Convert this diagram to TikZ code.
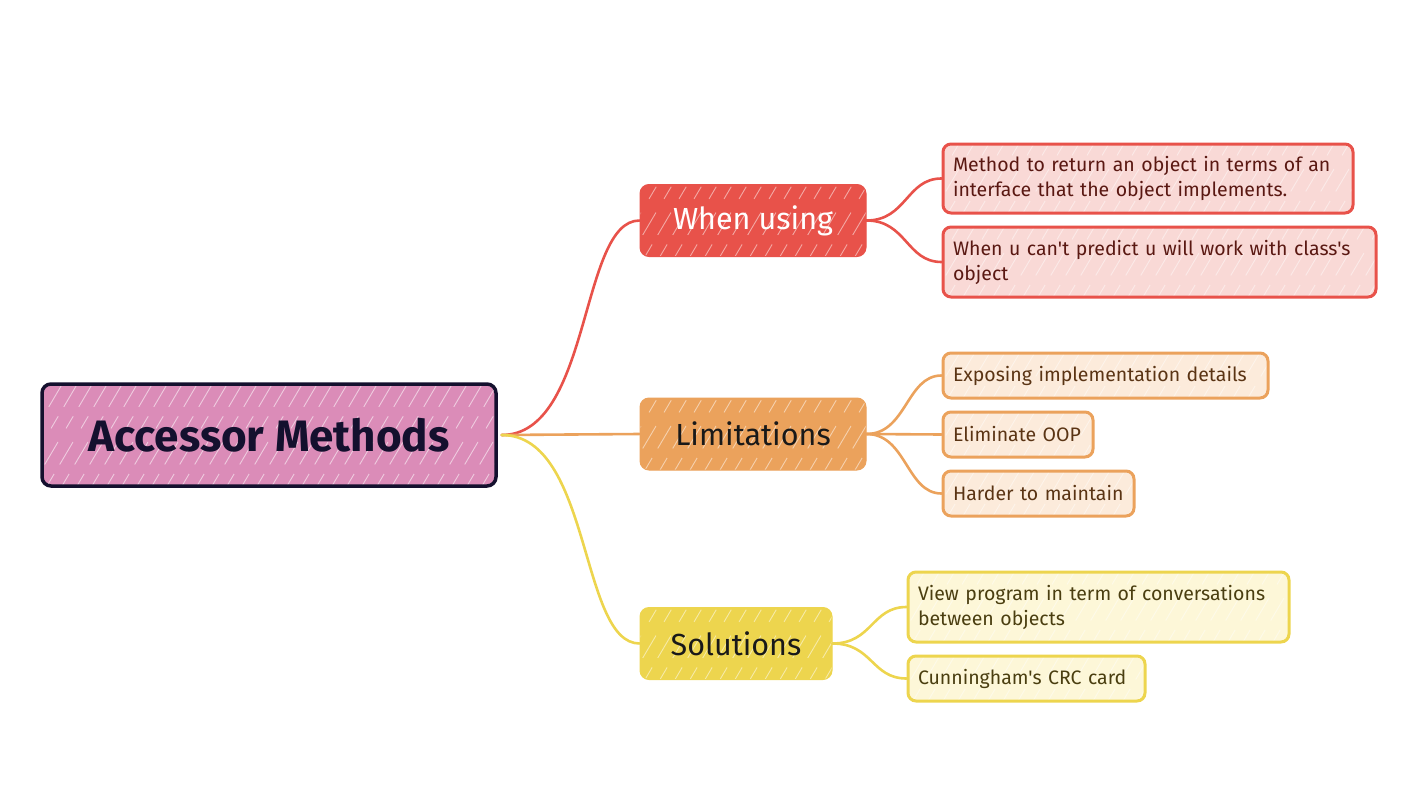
\documentclass[tikz,border=0pt]{standalone}
\usepackage{fontspec}
\setmainfont{Fira Sans}[Ligatures=TeXOff]
\usetikzlibrary{calc}
\definecolor{rootfill}{HTML}{DB8CB8}
\definecolor{rootdraw}{HTML}{14102E}
\definecolor{redc}{HTML}{E8524A}
\definecolor{orac}{HTML}{EBA25C}
\definecolor{yelc}{HTML}{EDD54E}
\definecolor{redl}{HTML}{F9D9D6}
\definecolor{oral}{HTML}{FCEBDB}
\definecolor{yell}{HTML}{FDF7D8}
\definecolor{redt}{HTML}{5A1812}
\definecolor{orat}{HTML}{5A3414}
\definecolor{yelt}{HTML}{4A3E10}
\tikzset{
  hatch/.style={path picture={
    \foreach \i in {-12,...,50}{
      \draw[white,opacity=#1,line width=0.9pt,dash pattern=on 14pt off 11pt on 26pt off 16pt]
        ($(path picture bounding box.south west)+(\i*15-40,0)$) -- ++(65,-110);}
  }},
  rootbox/.style={draw=rootdraw,fill=rootfill,line width=3.5pt,rounded corners=9pt,
    minimum width=454pt,minimum height=102pt,inner sep=0pt,text=rootdraw,
    font=\fontsize{44}{50}\selectfont\bfseries,hatch=0.55},
  branchbox/.style={draw=#1,fill=#1,line width=1pt,rounded corners=9pt,
    minimum height=72pt,inner sep=0pt,font=\fontsize{30.5}{36}\selectfont,hatch=0.5},
  leafbox/.style={rounded corners=8pt,line width=3pt,inner xsep=10pt,inner ysep=0pt,
    align=left,font=\fontsize{19.5}{25}\selectfont,hatch=0.45},
  redleaf/.style={leafbox,draw=redc,fill=redl,text=redt},
  oraleaf/.style={leafbox,draw=orac,fill=oral,text=orat},
  yelleaf/.style={leafbox,draw=yelc,fill=yell,text=yelt},
  conn/.style={line width=2.6pt,draw=#1,line cap=round}
}
\begin{document}
\begin{tikzpicture}[x=1pt,y=-1pt]
\useasboundingbox (0,0) rectangle (1418,808);
% root
\node[rootbox] (root) at (269,435) {Accessor Methods};
% branches
\node[branchbox=redc,minimum width=226pt,text=white] (b1) at (753,220.5) {When using};
\node[branchbox=orac,minimum width=226pt,text=black!90] (b2) at (753,434) {Limitations};
\node[branchbox=yelc,minimum width=192pt,text=black!90] (b3) at (736,643.5) {Solutions};
% leaves
\node[redleaf,text width=390pt,minimum height=69pt] (l1) at (1148,178.5)
  {Method to return an object in terms of an\\interface that the object implements.};
\node[redleaf,text width=413pt,minimum height=70pt] (l2) at (1159.5,262)
  {When u can't predict u will work with class's\\object};
\node[oraleaf,text width=305pt,minimum height=45pt] (l3) at (1105.5,375.5)
  {Exposing implementation details};
\node[oraleaf,text width=130pt,minimum height=45pt] (l4) at (1018,434.5)
  {Eliminate OOP};
\node[oraleaf,text width=171pt,minimum height=45pt] (l5) at (1038.5,493.5)
  {Harder to maintain};
\node[yelleaf,text width=361pt,minimum height=70pt] (l6) at (1098.5,607)
  {View program in term of conversations\\between objects};
\node[yelleaf,text width=217pt,minimum height=45pt] (l7) at (1026.5,678.5)
  {Cunningham's CRC card};
% connectors root -> branches
\coordinate (rs) at ($(root.east)+(4,0)$);
\draw[conn=redc] (rs) .. controls +(90,0) and +(-60,0) .. (b1.west);
\draw[conn=orac] (rs) -- (b2.west);
\draw[conn=yelc] (rs) .. controls +(90,0) and +(-60,0) .. (b3.west);
% branch -> leaves
\draw[conn=redc] (b1.east) .. controls +(40,0) and +(-35,0) .. (l1.west);
\draw[conn=redc] (b1.east) .. controls +(40,0) and +(-35,0) .. (l2.west);
\draw[conn=orac] (b2.east) .. controls +(40,0) and +(-35,0) .. (l3.west);
\draw[conn=orac] (b2.east) -- (l4.west);
\draw[conn=orac] (b2.east) .. controls +(40,0) and +(-35,0) .. (l5.west);
\draw[conn=yelc] (b3.east) .. controls +(40,0) and +(-35,0) .. (l6.west);
\draw[conn=yelc] (b3.east) .. controls +(40,0) and +(-35,0) .. (l7.west);
\end{tikzpicture}
\end{document}
